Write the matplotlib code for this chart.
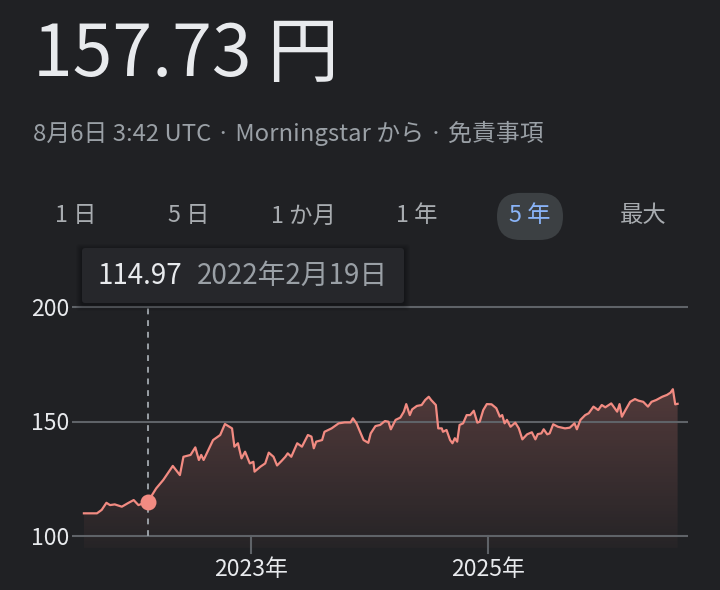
import matplotlib
matplotlib.use("Agg")
import matplotlib.pyplot as plt
import numpy as np
from matplotlib.colors import LinearSegmentedColormap
from matplotlib.patches import FancyBboxPatch, Polygon

plt.rcParams['font.family'] = ['Noto Sans CJK JP', 'DejaVu Sans']

# decimal years / price in yen
years = [2021.59, 2021.70, 2021.74, 2021.78, 2021.81, 2021.85, 2021.91, 2021.96, 2022.01, 2022.05,
         2022.13, 2022.20, 2022.26, 2022.34, 2022.40, 2022.43, 2022.49, 2022.53, 2022.56, 2022.58,
         2022.60, 2022.64, 2022.68, 2022.74, 2022.78, 2022.84, 2022.86, 2022.89, 2022.92, 2022.95,
         2022.99, 2023.02, 2023.03, 2023.08, 2023.12, 2023.15, 2023.19, 2023.22, 2023.26, 2023.29,
         2023.31, 2023.34, 2023.39, 2023.43, 2023.48, 2023.51, 2023.53, 2023.55, 2023.60, 2023.62,
         2023.68, 2023.74, 2023.79, 2023.84, 2023.86, 2023.89, 2023.92, 2023.95, 2023.99, 2024.01,
         2024.05, 2024.09, 2024.13, 2024.16, 2024.18, 2024.22, 2024.26, 2024.29, 2024.31, 2024.34,
         2024.36, 2024.40, 2024.44, 2024.47, 2024.50, 2024.52, 2024.56, 2024.58, 2024.61, 2024.62,
         2024.65, 2024.68, 2024.70, 2024.72, 2024.74, 2024.76, 2024.79, 2024.82, 2024.85, 2024.88,
         2024.91, 2024.93, 2024.96, 2024.99, 2025.03, 2025.07, 2025.10, 2025.12, 2025.14, 2025.16,
         2025.19, 2025.23, 2025.26, 2025.29, 2025.33, 2025.37, 2025.40, 2025.42, 2025.45, 2025.47,
         2025.50, 2025.52, 2025.55, 2025.59, 2025.65, 2025.69, 2025.73, 2025.75, 2025.78, 2025.82,
         2025.85, 2025.89, 2025.93, 2025.96, 2025.99, 2026.04, 2026.09, 2026.11, 2026.13, 2026.16,
         2026.20, 2026.24, 2026.27, 2026.31, 2026.35, 2026.38, 2026.42, 2026.47, 2026.51, 2026.54,
         2026.56, 2026.58, 2026.60]
prices = [109.9, 109.9, 111.4, 114.5, 113.5, 113.8, 112.8, 114.3, 115.7, 113.5,
          114.97, 120.8, 124.5, 130.6, 126.6, 134.6, 135.4, 138.7, 133.2, 135.4,
          133.2, 137.6, 141.9, 144.1, 148.9, 147.0, 139.0, 140.5, 133.9, 136.8,
          131.7, 132.4, 128.1, 130.3, 131.7, 136.4, 134.6, 130.8, 132.9, 134.6,
          136.1, 134.6, 140.5, 139.0, 144.1, 143.4, 138.3, 141.2, 141.9, 145.5,
          147.0, 149.2, 149.6, 149.6, 151.4, 149.2, 145.5, 141.9, 140.7, 144.8,
          148.0, 148.5, 150.2, 149.9, 146.6, 150.7, 151.7, 154.3, 157.6, 152.8,
          155.3, 156.8, 157.2, 159.4, 160.8, 159.4, 157.2, 147.0, 147.0, 145.5,
          146.3, 141.9, 140.5, 142.7, 141.2, 148.5, 149.2, 152.8, 152.8, 154.7,
          149.5, 149.9, 155.0, 157.6, 157.5, 155.8, 152.1, 152.8, 149.2, 150.7,
          147.7, 149.5, 147.0, 142.2, 144.4, 145.3, 142.2, 144.5, 144.8, 146.6,
          144.4, 144.8, 148.8, 147.7, 147.0, 147.3, 149.2, 146.6, 150.7, 152.8,
          153.6, 156.5, 155.0, 157.2, 156.2, 157.9, 154.3, 157.6, 152.1, 155.0,
          158.6, 159.8, 159.1, 158.6, 156.5, 158.6, 159.4, 160.8, 161.6, 162.6,
          164.1, 157.5, 157.73]

hover_idx = 10
hover_value = "114.97"
hover_date = "2022年2月19日"

header = "157.73 円"
subtitle = "8月6日 3:42 UTC · Morningstar から · 免責事項"
tabs = ["1 日", "5 日", "1 か月", "1 年", "5 年", "最大"]
active_tab = 4

y_ticks = [100, 150, 200]
x_ticks = [2023, 2025]
x_labels = ["2023年", "2025年"]

BG = "#202124"
LINE = "#f28b82"
GRID = "#5f6368"

W, H = 720, 590
fig = plt.figure(figsize=(W / 100, H / 100), dpi=100, facecolor=BG)


def fx(px):
    return px / W


def fy(py):
    return 1 - py / H


# header texts
fig.text(fx(33), fy(55), header, fontsize=51.5, color="#e8eaed", va="center", ha="left")
fig.text(fx(33), fy(133), subtitle, fontsize=17.2, color="#9aa0a6", va="center", ha="left")

# range tabs
tab_x = [76, 189, 303, 417, 530, 643]
for i, (t, xx) in enumerate(zip(tabs, tab_x)):
    if i == active_tab:
        pill = FancyBboxPatch((xx - 33 + 23.5, H - 240 + 23.5), 19, 0.1,
                              boxstyle="round,pad=23.5", transform=None,
                              facecolor="#3c4043", edgecolor="none")
        fig.patches.append(pill)
        col = "#8ab4f8"
    else:
        col = "#a8acb0"
    fig.text(fx(xx), fy(216), t, fontsize=16.8, color=col, va="center", ha="center")

# chart axes
ax = fig.add_axes([fx(72), fy(548), fx(688) - fx(72), fy(300) - fy(548)])
ax.set_facecolor(BG)
x0 = 2023 + (72 - 251) / 118.5
x1 = 2023 + (688 - 251) / 118.5
ybot = 100 - 12 / 2.29
ytop = 200 + 7 / 2.29
ax.set_xlim(x0, x1)
ax.set_ylim(ybot, ytop)
for s in ax.spines.values():
    s.set_visible(False)

xs = np.array(years)
ys = np.array(prices)

# gradient fill under the line
cmap = LinearSegmentedColormap.from_list("fade", [(0.949, 0.545, 0.510, 0.03),
                                                  (0.949, 0.545, 0.510, 0.24)])
grad = np.linspace(0, 1, 256).reshape(-1, 1)
im = ax.imshow(grad, extent=[xs[0], xs[-1], ybot, ys.max()], origin="lower",
               aspect="auto", cmap=cmap, zorder=1)
verts = np.vstack([[xs[0], ybot], np.column_stack([xs, ys]), [xs[-1], ybot]])
clip = Polygon(verts, closed=True, facecolor="none", edgecolor="none")
ax.add_patch(clip)
im.set_clip_path(clip)

for v in y_ticks:
    ax.axhline(v, color=GRID, lw=1.5, zorder=2)
for v in x_ticks:
    ax.plot([v, v], [100, 100 - 17 / 2.29], color=GRID, lw=1.5, clip_on=False, zorder=2)

ax.plot(xs, ys, color=LINE, lw=1.6, zorder=4, solid_joinstyle="round")

# hover marker
hx, hv = years[hover_idx], prices[hover_idx]
ax.plot([hx, hx], [100, 201.7], color="#9aa0a6", lw=1.4, ls=(0, (3, 3)), clip_on=False, zorder=3)
ax.plot(hx, hv, "o", ms=11.5, color=LINE, mec="none", zorder=5)

ax.set_yticks(y_ticks)
ax.set_yticklabels([str(v) for v in y_ticks])
ax.set_xticks(x_ticks)
ax.set_xticklabels(x_labels)
ax.tick_params(axis="both", length=0, labelsize=16.5, colors="#e8eaed")
ax.tick_params(axis="y", pad=2)
ax.tick_params(axis="x", pad=7)

# tooltip with soft shadow
for k in range(6, 0, -1):
    sh = FancyBboxPatch((82 - k, H - 303 - k - 2), 322 + 2 * k, 55 + 2 * k,
                        boxstyle="round,pad=0,rounding_size=4", transform=None,
                        facecolor="black", edgecolor="none", alpha=0.05, zorder=8)
    fig.patches.append(sh)
tip = FancyBboxPatch((82, H - 303), 322, 55, boxstyle="round,pad=0,rounding_size=3",
                     transform=None, facecolor="#26272b", edgecolor="none", zorder=9)
fig.patches.append(tip)
fig.text(fx(98), fy(276), hover_value, fontsize=20, color="#e8eaed", va="center", ha="left", zorder=10)
fig.text(fx(197), fy(276), hover_date, fontsize=20, color="#9aa0a6", va="center", ha="left", zorder=10)

fig.savefig("out.png", dpi=100, facecolor=BG)
